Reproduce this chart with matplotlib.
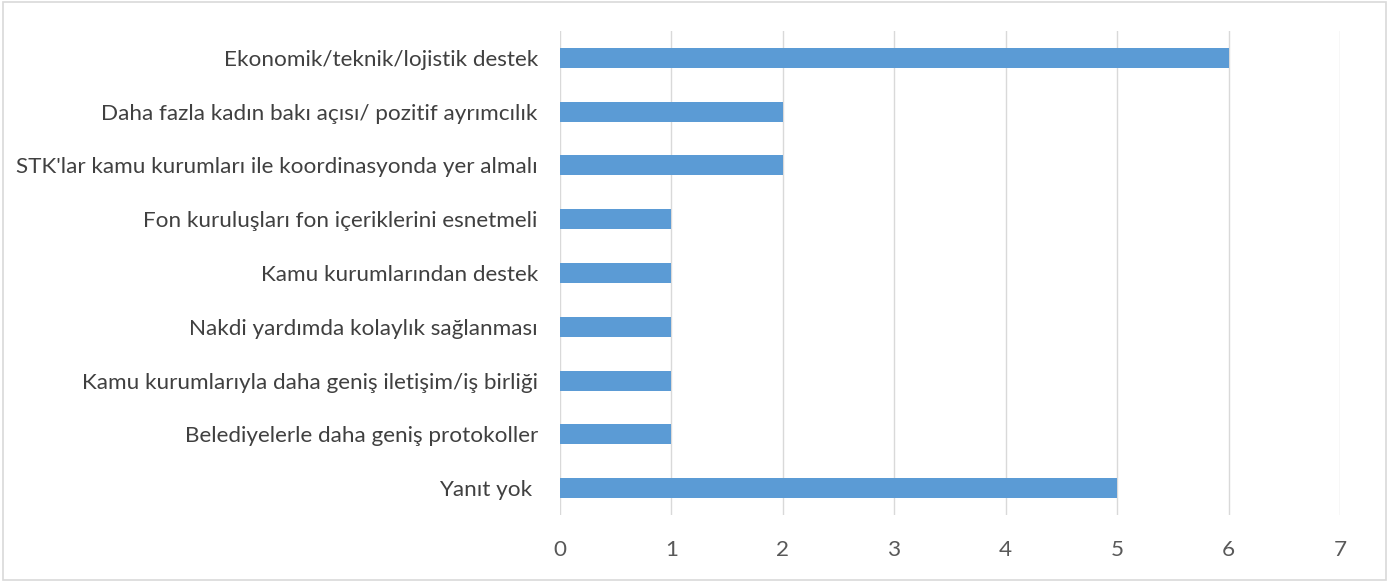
import matplotlib.pyplot as plt
from matplotlib.patches import Rectangle

### data
categories = [
    "Ekonomik/teknik/lojistik destek",
    "Daha fazla kadın bakı açısı/ pozitif ayrımcılık",
    "STK'lar kamu kurumları ile koordinasyonda yer almalı",
    "Fon kuruluşları fon içeriklerini esnetmeli",
    "Kamu kurumlarından destek",
    "Nakdi yardımda kolaylık sağlanması",
    "Kamu kurumlarıyla daha geniş iletişim/iş birliği",
    "Belediyelerle daha geniş protokoller",
    "Yanıt yok ",
]
values = [6, 2, 2, 1, 1, 1, 1, 1, 5]
x_ticks = [0, 1, 2, 3, 4, 5, 6, 7]
###

plt.rcParams['font.family'] = ['Lato', 'DejaVu Sans']

fig = plt.figure(figsize=(13.93, 5.82), dpi=100)
ax = fig.add_axes([0.402, 0.115, 0.56, 0.832])

positions = list(range(len(categories)))[::-1]
ax.barh(positions, values, height=0.37, color='#5B9BD5', zorder=3)

ax.set_xlim(0, 7)
ax.set_ylim(-0.5, len(categories) - 0.5)
ax.set_xticks(x_ticks)
ax.set_xticklabels([str(t) for t in x_ticks])
ax.set_yticks(positions)
ax.set_yticklabels(categories)

ax.grid(axis='x', color='#D9D9D9', linewidth=1, zorder=0)
for side in ['top', 'right', 'left', 'bottom']:
    ax.spines[side].set_visible(False)
ax.tick_params(axis='both', length=0, labelsize=16.2, colors='#404040')
ax.tick_params(axis='x', pad=18, colors='#595959')
ax.tick_params(axis='y', pad=16)

# outer chart border
fig.patches.append(Rectangle((0.002, 0.004), 0.993, 0.992, transform=fig.transFigure,
                             fill=False, edgecolor='#D9D9D9', linewidth=1.2))

fig.savefig('out.png', dpi=100)
